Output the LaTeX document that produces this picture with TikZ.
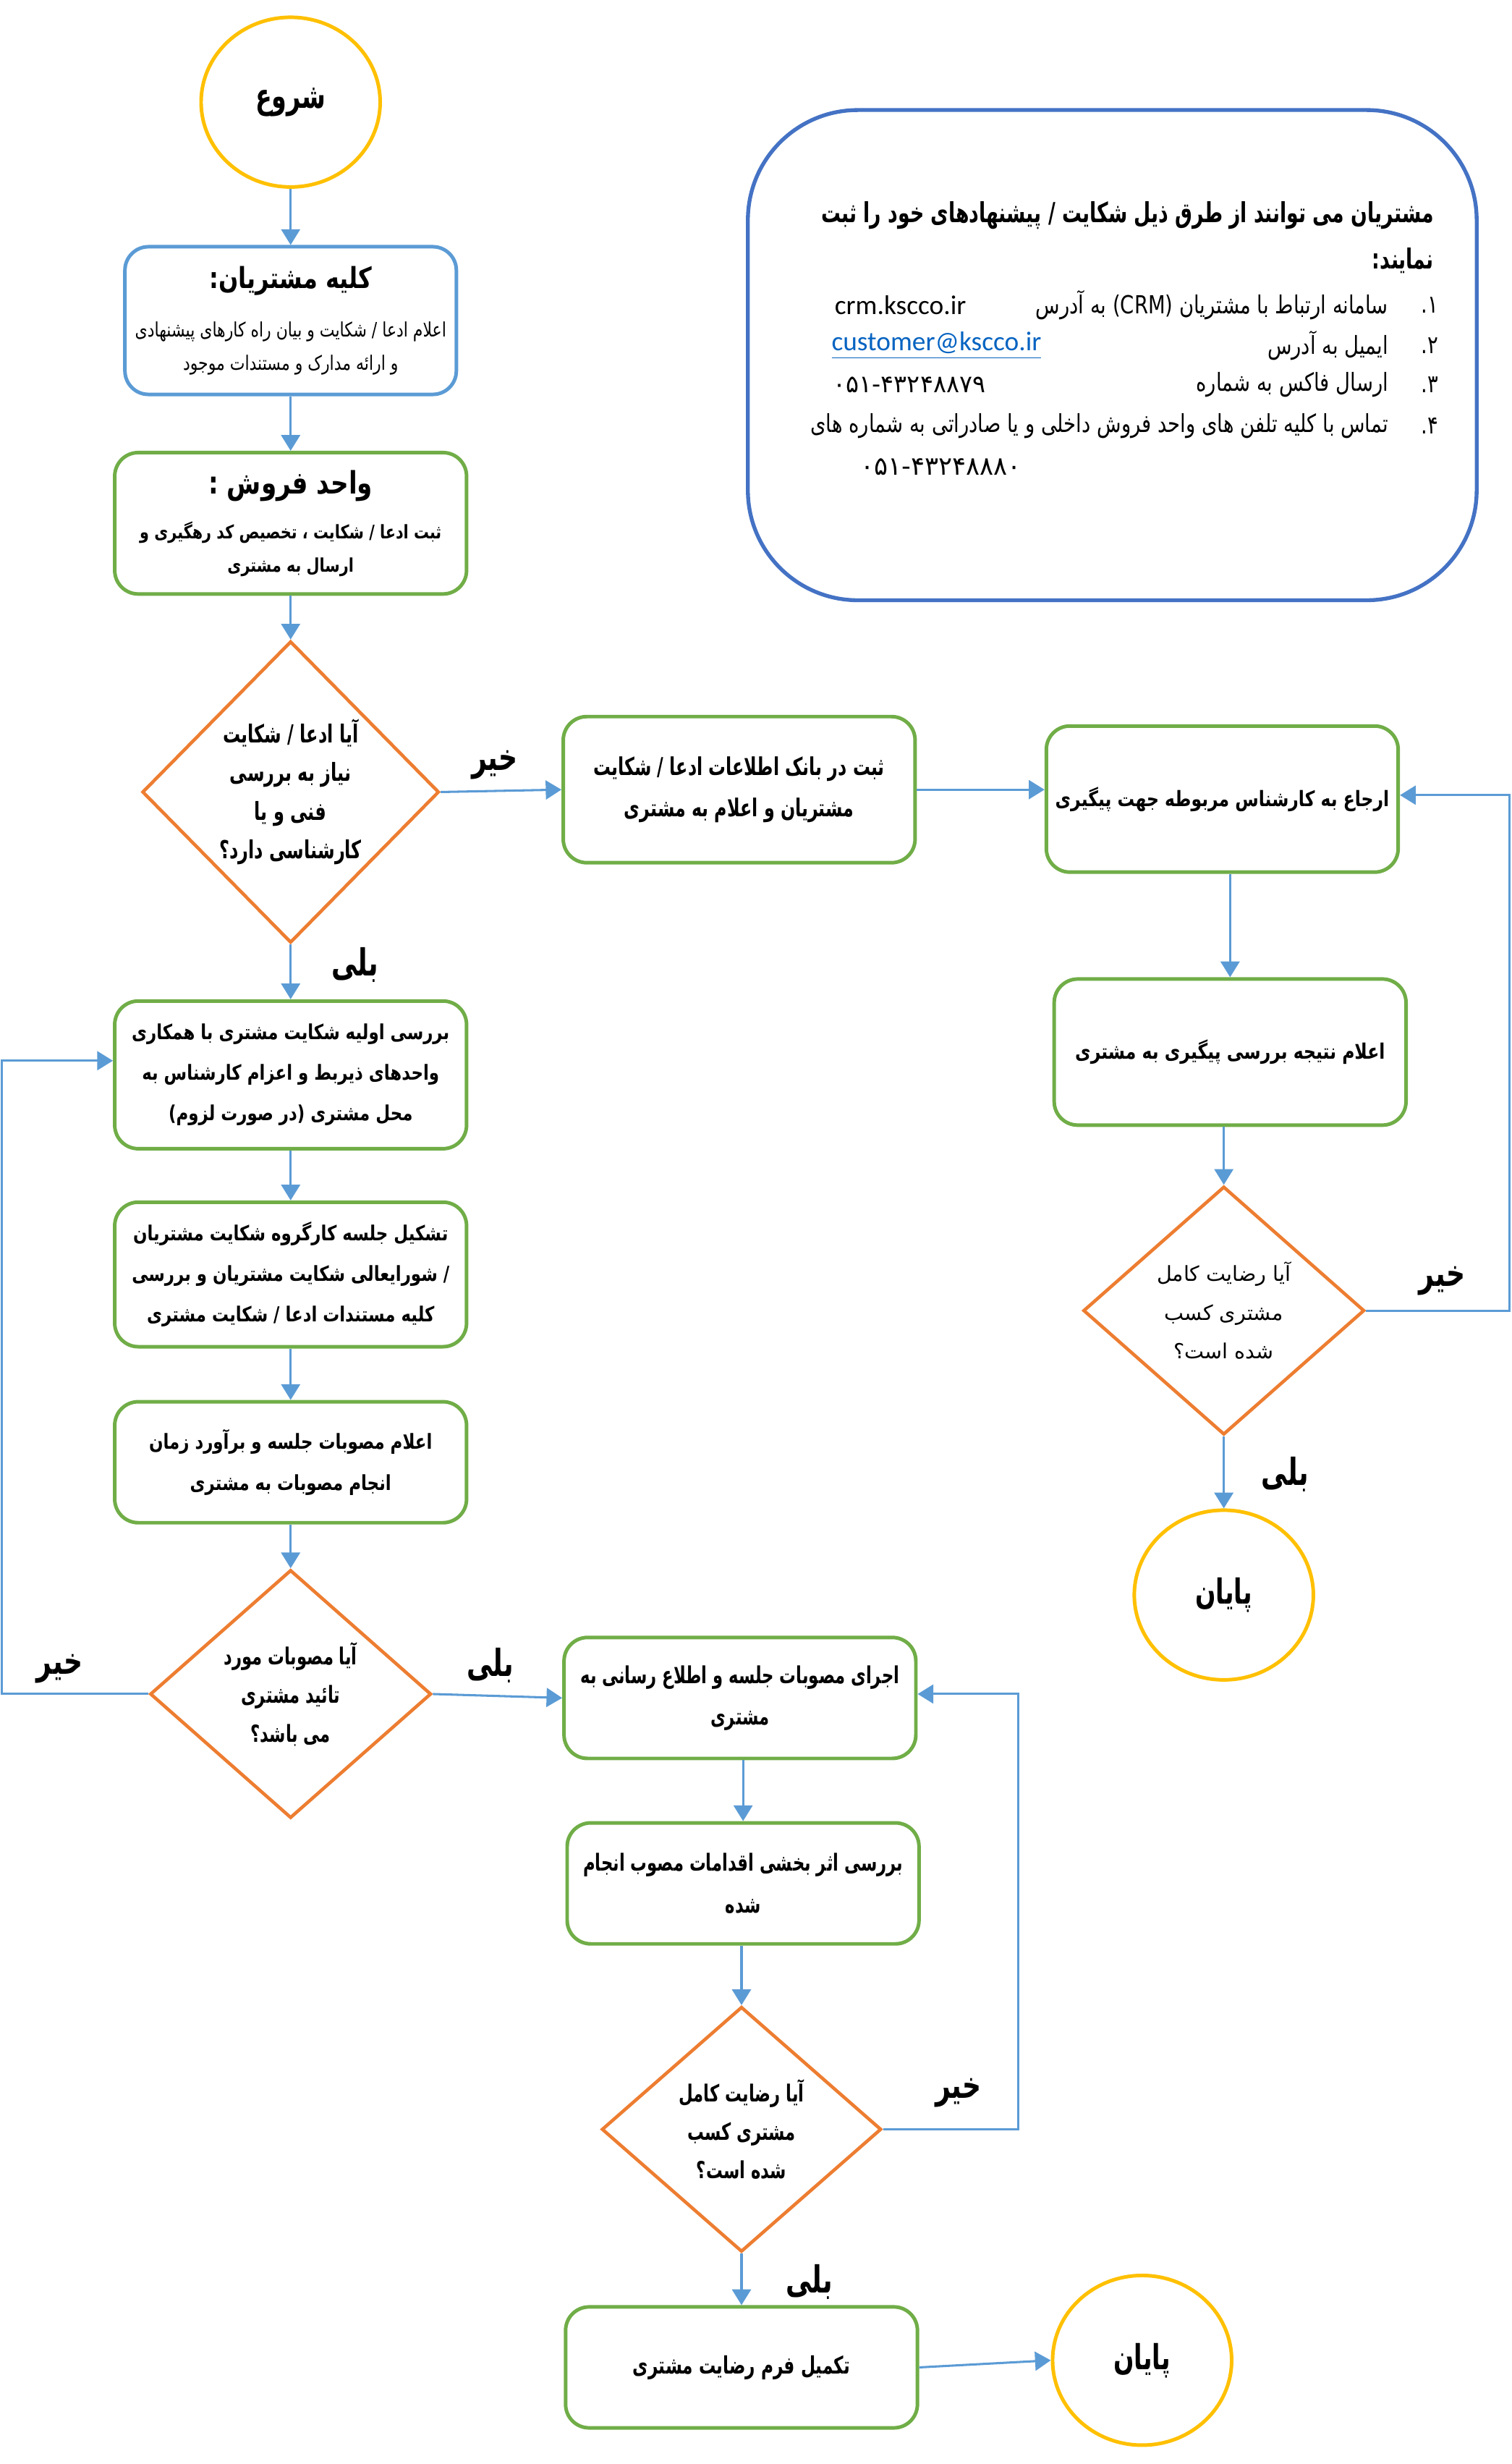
\documentclass[tikz,border=0pt]{standalone}
\usepackage{fontspec}
\setmainfont{DejaVu Sans}
\newfontfamily\fa[Script=Arabic]{DejaVu Sans}
\newfontfamily\fan[Script=Arabic,FakeStretch=0.8]{DejaVu Sans}
\newfontfamily\fac[Script=Arabic,FakeStretch=0.7]{DejaVu Sans}
\newfontfamily\lat{Carlito}
\TeXXeTstate=1
\usepackage{xcolor}
\usepackage{tikz}
\usetikzlibrary{arrows.meta,shapes.geometric}
\newcommand{\rtext}[1]{\beginR #1\endR}
\definecolor{lineB}{HTML}{5B9BD5}
\definecolor{boxG}{HTML}{70AD47}
\definecolor{diaO}{HTML}{ED7D31}
\definecolor{termY}{HTML}{FFC000}
\definecolor{panelB}{HTML}{4472C4}
\definecolor{linkB}{HTML}{0563C1}
\tikzset{
  flow/.style = {draw=lineB, line width=0.8pt, -{Triangle[width=2.4mm,length=2mm]}},
  stepbox/.style = {rectangle, draw=boxG, line width=1.3pt, rounded corners=0.3cm, fill=white, align=center, inner sep=2pt, minimum width=4.48cm},
  decide/.style = {diamond, draw=diaO, line width=1.2pt, inner sep=0pt, align=center, fill=white},
  term/.style = {ellipse, draw=termY, line width=1.3pt, minimum width=2.28cm, minimum height=2.16cm, font=\fac\bfseries\fontsize{12.5}{14}\selectfont},
  yesno/.style = {font=\fac\bfseries\fontsize{13.5}{15}\selectfont},
  panel/.style = {rectangle, draw=panelB, line width=1.4pt, rounded corners=1.4cm, minimum width=9.28cm, minimum height=6.24cm},
  infotext/.style = {inner sep=0pt, font=\fan\fontsize{9}{11}\selectfont},
}

\begin{document}
\begin{tikzpicture}[x=0.02cm, y=-0.02cm, font=\fa]
  \useasboundingbox (0,0) rectangle (962,1568);

  \node[term] (start) at (185,65) {\rtext{شروع}};
  \node[stepbox, draw=lineB, minimum width=4.22cm, minimum height=1.88cm, font=\fan\fontsize{7.2}{12}\selectfont] (cust) at (185,204)
    {{\bfseries\fontsize{10.5}{14}\selectfont\rtext{کلیه مشتریان:}}\\[2mm]
     \rtext{اعلام  ادعا / شکایت و بیان راه کارهای پیشنهادی}\\
     \rtext{و ارائه مدارک و مستندات موجود}};
  \node[stepbox, minimum height=1.8cm, font=\fan\bfseries\fontsize{6.8}{12}\selectfont] (sales) at (185,333)
    {{\fontsize{11.2}{14}\selectfont\rtext{واحد فروش :}}\\[1.5mm]
     \rtext{ثبت ادعا / شکایت ، تخصیص کد رهگیری و}\\
     \rtext{ارسال به مشتری}};
  \node[decide, minimum width=3.78cm, minimum height=3.84cm, font=\fac\bfseries\fontsize{9}{14}\selectfont] (d1) at (185,504)
    {\rtext{آیا ادعا / شکایت}\\\rtext{نیاز به بررسی}\\\rtext{فنی و  یا}\\\rtext{کارشناسی دارد؟}};

  \node[stepbox, minimum height=1.86cm, font=\fac\bfseries\fontsize{8.9}{15}\selectfont] (reg) at (470.5,502.5)
    {\rtext{ثبت در بانک اطلاعات ادعا / شکایت}\\\rtext{مشتریان  و اعلام به مشتری}};
  \node[stepbox, minimum height=1.86cm, font=\fan\bfseries\fontsize{7.7}{14}\selectfont] (refer) at (778,508.5)
    {\rtext{ارجاع به کارشناس مربوطه جهت پیگیری}};
  \node[stepbox, minimum height=1.86cm, font=\fan\bfseries\fontsize{7.7}{14}\selectfont] (result) at (783,669.5)
    {\rtext{اعلام نتیجه بررسی پیگیری به مشتری}};
  \node[decide, minimum width=3.58cm, minimum height=3.16cm, font=\fa\fontsize{7.5}{14}\selectfont] (d4) at (779,834)
    {\rtext{آیا رضایت کامل}\\\rtext{مشتری کسب}\\\rtext{شده است؟}};
  \node[term] (end1) at (779,1015) {\rtext{پایان}};

  \node[panel] (info) at (708,226) {};
  \node[anchor=east, inner sep=0pt, font=\fac\bfseries\fontsize{10}{12}\selectfont] (head1) at (913,137)
    {\rtext{مشتریان می توانند از طرق ذیل شکایت / پیشنهادهای خود را ثبت}};
  \node[anchor=east, inner sep=0pt, font=\fac\bfseries\fontsize{10}{12}\selectfont] (head2) at (913,166) {\rtext{نمایند:}};
  \foreach \i/\n/\t/\y in {
    1/۱./{سامانه ارتباط با مشتریان \beginL(CRM)\endL{} به آدرس}/194,
    2/۲./{ایمیل به آدرس}/220,
    3/۳./{ارسال فاکس به شماره}/245,
    4/۴./{تماس با کلیه تلفن های واحد فروش داخلی و یا صادراتی به شماره های}/271
  }{
    \node[infotext, anchor=east] (num\i) at (916,\y) {\rtext{\n}};
    \node[infotext, anchor=east] (item\i) at (884,\y) {\rtext{\t}};
  }
  \node[anchor=west, inner sep=0pt, font=\lat\fontsize{9.8}{11}\selectfont] (crm) at (531,194) {crm.kscco.ir};
  \node[anchor=west, inner sep=0pt, font=\lat\fontsize{9.8}{11}\selectfont, text=linkB] (mail) at (529,220) {\underline{customer@kscco.ir}};
  \node[anchor=west, inner sep=0pt, font=\fa\fontsize{8.8}{11}\selectfont] (fax) at (530,245) {۰۵۱-۴۳۲۴۸۸۷۹};
  \node[inner sep=0pt, font=\fa\fontsize{9.3}{11}\selectfont] (tel) at (599,297) {۰۵۱-۴۳۲۴۸۸۸۰};

  \node[stepbox, minimum height=1.88cm, font=\fan\bfseries\fontsize{7.5}{14.7}\selectfont] (review) at (185,684)
    {\rtext{بررسی اولیه شکایت مشتری با همکاری}\\\rtext{واحدهای ذیربط و اعزام کارشناس به}\\\rtext{محل مشتری (در صورت لزوم)}};
  \node[stepbox, minimum height=1.84cm, font=\fan\bfseries\fontsize{7.5}{14.7}\selectfont] (meet) at (185,811)
    {\rtext{تشکیل جلسه کارگروه شکایت مشتریان}\\\rtext{/ شورایعالی شکایت مشتریان و  بررسی}\\\rtext{کلیه مستندات ادعا / شکایت مشتری}};
  \node[stepbox, minimum height=1.54cm, font=\fan\bfseries\fontsize{7.5}{15}\selectfont] (announce) at (185,930.5)
    {\rtext{اعلام  مصوبات جلسه و  برآورد زمان}\\\rtext{انجام مصوبات به مشتری}};
  \node[decide, minimum width=3.58cm, minimum height=3.16cm, font=\fac\bfseries\fontsize{8.5}{14}\selectfont] (d2) at (185,1078)
    {\rtext{آیا مصوبات مورد}\\\rtext{تائید مشتری}\\\rtext{می باشد؟}};

  \node[stepbox, minimum height=1.54cm, font=\fac\bfseries\fontsize{8.5}{15}\selectfont] (exec) at (471,1080.5)
    {\rtext{اجرای مصوبات جلسه و اطلاع رسانی به}\\\rtext{مشتری}};
  \node[stepbox, minimum height=1.54cm, font=\fac\bfseries\fontsize{8.5}{15}\selectfont] (effect) at (473,1198.5)
    {\rtext{بررسی اثر بخشی اقدامات مصوب انجام}\\\rtext{شده}};
  \node[decide, minimum width=3.56cm, minimum height=3.12cm, font=\fac\bfseries\fontsize{8.5}{14}\selectfont] (d3) at (472,1355)
    {\rtext{آیا رضایت کامل}\\\rtext{مشتری کسب}\\\rtext{شده است؟}};
  \node[stepbox, minimum height=1.54cm, font=\fac\bfseries\fontsize{8.7}{15}\selectfont] (form) at (472,1506.5)
    {\rtext{تکمیل فرم رضایت مشتری}};
  \node[term] (end2) at (727,1502) {\rtext{پایان}};

  \foreach \a/\b in {start/cust, cust/sales, sales/d1, d1/review, review/meet, meet/announce, announce/d2,
                     refer/result, result/d4, d4/end1, exec/effect, effect/d3, d3/form}{
    \draw[flow] (\b.north |- \a.south) -- (\b.north);
  }
  \draw[flow] (d1.east) -- (reg.west);
  \draw[flow] (reg.east) -- (reg.east -| refer.west);
  \draw[flow] (d2.east) -- (exec.west);
  \draw[flow] (form.east) -- (end2.west);

  \coordinate (loopR) at (961,834);
  \coordinate (loopL) at (1,1078);
  \coordinate (loopB) at (648,1355);
  \draw[flow] (d4.east) -- (loopR) |- ([yshift=0.05cm]refer.east);
  \draw[flow] (d2.west) -- (loopL) |- ([yshift=0.18cm]review.west);
  \draw[flow] (d3.east) -- (loopB) |- ([yshift=0.05cm]exec.east);

  \node[yesno] (no1) at (315,487) {\rtext{خیر}};
  \node[yesno] (yes1) at (226,614) {\rtext{بلی}};
  \node[yesno] (no2) at (918,815) {\rtext{خیر}};
  \node[yesno] (yes2) at (818,938) {\rtext{بلی}};
  \node[yesno] (no3) at (38,1062) {\rtext{خیر}};
  \node[yesno] (yes3) at (312,1060) {\rtext{بلی}};
  \node[yesno] (no4) at (610,1332) {\rtext{خیر}};
  \node[yesno] (yes4) at (515,1452) {\rtext{بلی}};
\end{tikzpicture}
\end{document}
